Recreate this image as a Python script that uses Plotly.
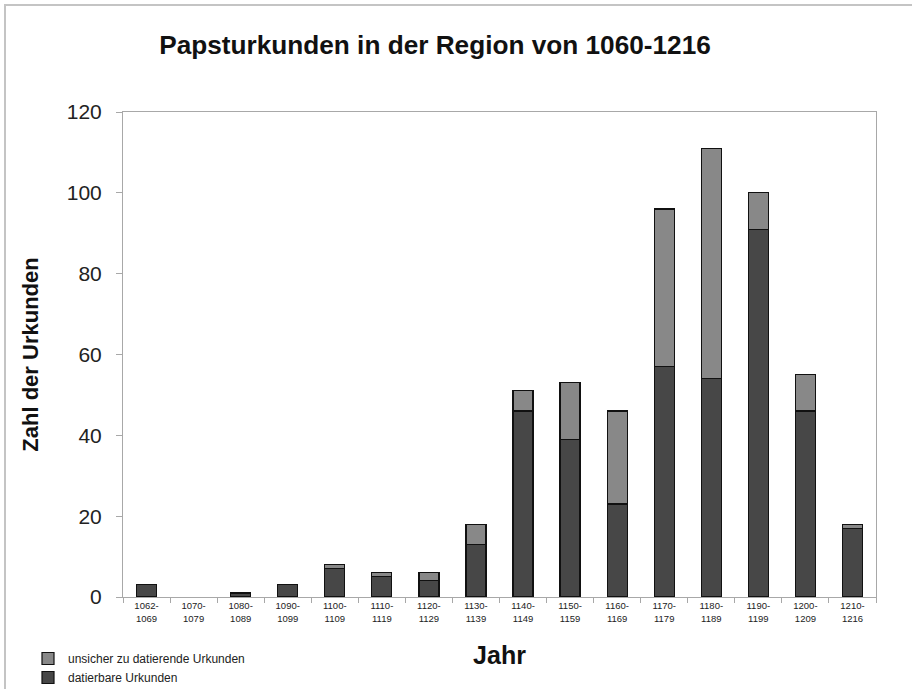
import plotly.graph_objects as go

categories = ["1062-<br>1069", "1070-<br>1079", "1080-<br>1089", "1090-<br>1099",
              "1100-<br>1109", "1110-<br>1119", "1120-<br>1129", "1130-<br>1139",
              "1140-<br>1149", "1150-<br>1159", "1160-<br>1169", "1170-<br>1179",
              "1180-<br>1189", "1190-<br>1199", "1200-<br>1209", "1210-<br>1216"]
datierbar = [3, 0, 1, 3, 7, 5, 4, 13, 46, 39, 23, 57, 54, 91, 46, 17]
unsicher = [0, 0, 0, 0, 1, 1, 2, 5, 5, 14, 23, 39, 57, 9, 9, 1]
y_ticks = [0, 20, 40, 60, 80, 100, 120]

FONT = "Arial, 'Liberation Sans', sans-serif"


def nz(vals):
    # zero-height segments are not drawn (no outline sliver)
    return [v if v else None for v in vals]


fig = go.Figure()
fig.add_trace(go.Bar(x=categories, y=nz(datierbar), name="datierbare Urkunden",
                     marker=dict(color="#474747", line=dict(color="#111111", width=1.2))))
fig.add_trace(go.Bar(x=categories, y=nz(unsicher), name="unsicher zu datierende Urkunden",
                     marker=dict(color="#888888", line=dict(color="#111111", width=1.2))))

W, H = 912, 689
L, R, T, B = 123, 36, 112, 92
pw, ph = W - L - R, H - T - B


def px2x(p):
    return (p - L) / pw


def py2y(p):
    return (H - B - p) / ph


fig.update_layout(
    width=W, height=H,
    barmode="stack", bargap=0.575,
    paper_bgcolor="white", plot_bgcolor="white",
    margin=dict(l=L, r=R, t=T, b=B, autoexpand=False),
    font=dict(family=FONT, color="#1a1a1a"),
    title=dict(text="<b>Papsturkunden in der Region von 1060-1216</b>",
               x=435 / W, xanchor="center", y=1 - 45 / H, yanchor="middle",
               font=dict(size=26.2, color="#111111")),
    showlegend=True,
    legend=dict(traceorder="reversed", x=px2x(28), xanchor="left",
                y=py2y(644), yanchor="top", font=dict(size=12, color="#222222"),
                bgcolor="rgba(0,0,0,0)", tracegroupgap=0, itemwidth=30),
    xaxis=dict(showline=True, linecolor="#a8a8a8", linewidth=1, mirror=True,
               ticks="outside", tickson="boundaries", ticklen=5, tickcolor="#a8a8a8",
               tickfont=dict(size=9.5, color="#222222"), automargin=False,
               title=dict(text="<b>Jahr</b>", font=dict(size=25, color="#111111"), standoff=23),
               showgrid=False),
    yaxis=dict(range=[0, 120], tickvals=y_ticks, showline=True, linecolor="#a8a8a8",
               linewidth=1, mirror=True, ticks="outside", ticklen=6, tickcolor="#a8a8a8",
               tickfont=dict(size=21, color="#222222"), ticklabelstandoff=10,
               automargin=False,
               title=dict(text="<b>Zahl der Urkunden</b>", font=dict(size=22, color="#111111"),
                          standoff=22),
               showgrid=False, zeroline=False),
    shapes=[dict(type="rect", xref="paper", yref="paper",
                 x0=px2x(5), x1=px2x(W + 5), y0=py2y(H + 5), y1=py2y(5),
                 line=dict(color="#c4c4c4", width=2), fillcolor="rgba(0,0,0,0)",
                 layer="below")],
)

fig.write_html("out.html", config={"displayModeBar": False},
               post_script="document.body.style.margin='0';document.body.style.overflow='hidden';")
